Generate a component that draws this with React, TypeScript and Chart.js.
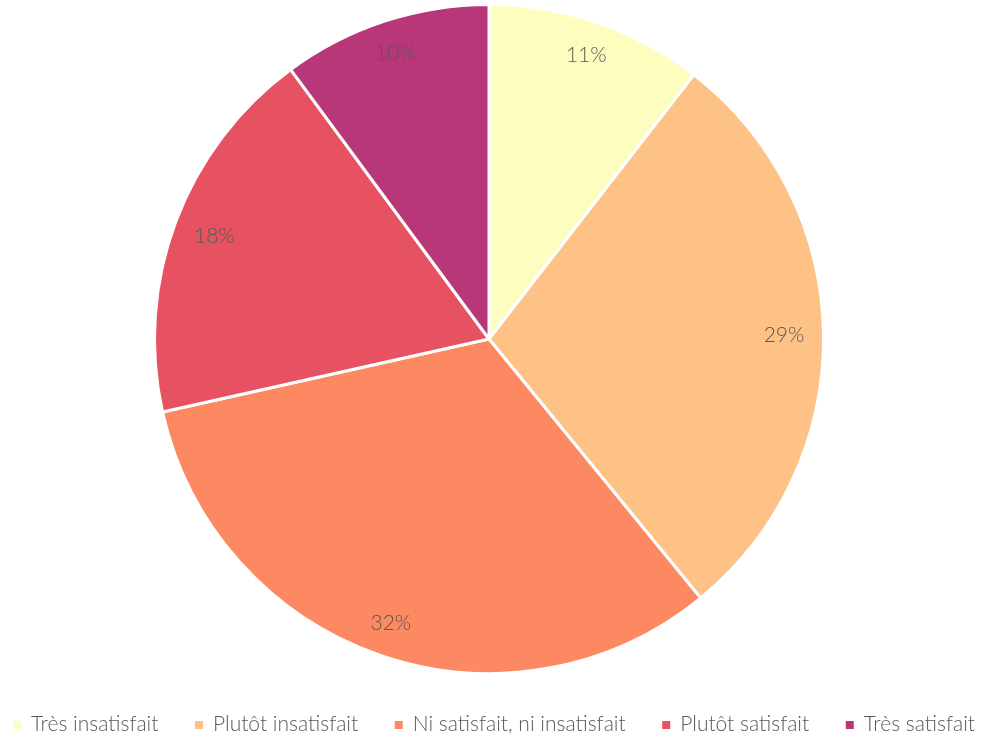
import React, { useEffect, useRef } from "react";
import { Chart, registerables } from "chart.js";

Chart.register(...registerables);

const categories = [
  "Très insatisfait",
  "Plutôt insatisfait",
  "Ni satisfait, ni insatisfait",
  "Plutôt satisfait",
  "Très satisfait",
];
const values = [10.5, 28.6, 32.4, 18.4, 10.1];
const colors = ["#FCFDBF", "#FEC287", "#FC8961", "#E75263", "#B73779"];

const FONT = "Lato, 'Noto Sans', sans-serif";
const TEXT_COLOR = "#595959";

const labelPlugin = {
  id: "sliceLabels",
  afterDatasetsDraw(chart: any) {
    const ctx = chart.ctx;
    const meta = chart.getDatasetMeta(0);
    const total = values.reduce((a, b) => a + b, 0);
    ctx.save();
    ctx.font = `300 21px ${FONT}`;
    ctx.fillStyle = TEXT_COLOR;
    ctx.textAlign = "center";
    ctx.textBaseline = "middle";
    meta.data.forEach((arc: any, i: number) => {
      const { x, y, startAngle, endAngle, outerRadius } = arc.getProps(
        ["x", "y", "startAngle", "endAngle", "outerRadius"],
        true
      );
      const mid = (startAngle + endAngle) / 2;
      const pct = Math.round((values[i] / total) * 100);
      const text = `${pct}%`;
      const w = ctx.measureText(text).width;
      const h = 18;
      const extent =
        (Math.abs(Math.cos(mid)) * w) / 2 + (Math.abs(Math.sin(mid)) * h) / 2;
      const r = outerRadius - 19 - extent;
      ctx.fillText(text, x + Math.cos(mid) * r, y + Math.sin(mid) * r);
    });
    ctx.restore();
  },
};

const legendPlugin = {
  id: "bottomLegend",
  afterDraw(chart: any) {
    const ctx = chart.ctx;
    const labels: string[] = chart.data.labels;
    const bg: string[] = chart.data.datasets[0].backgroundColor;
    ctx.save();
    ctx.font = `300 21px ${FONT}`;
    ctx.textBaseline = "middle";
    ctx.textAlign = "left";
    const box = 8;
    const boxGap = 10;
    const widths = labels.map((l) => box + boxGap + ctx.measureText(l).width);
    const sum = widths.reduce((a, b) => a + b, 0);
    const left = 13;
    const right = 975;
    const gap = (right - left - sum) / (labels.length - 1);
    const cy = chart.height - 12;
    let x = left;
    labels.forEach((l, i) => {
      ctx.fillStyle = bg[i];
      ctx.fillRect(x, cy - box / 2 + 1, box, box);
      ctx.fillStyle = TEXT_COLOR;
      ctx.fillText(l, x + box + boxGap, cy);
      x += widths[i] + gap;
    });
    ctx.restore();
  },
};

export default function App() {
  const ref = useRef<HTMLCanvasElement>(null);
  useEffect(() => {
    document.body.style.margin = "0";
    const chart = new Chart(ref.current!, {
      type: "pie",
      data: {
        labels: categories,
        datasets: [
          {
            data: values,
            backgroundColor: colors,
            borderColor: "#ffffff",
            borderWidth: 3,
          },
        ],
      },
      options: {
        animation: false,
        responsive: false,
        layout: { padding: { top: 3, left: 0, right: 6, bottom: 61 } },
        plugins: {
          tooltip: { enabled: false },
          legend: { display: false },
        },
      },
      plugins: [labelPlugin, legendPlugin],
    });
    return () => chart.destroy();
  }, []);
  return (
    <div style={{ width: 984, height: 736 }}>
      <canvas ref={ref} width={984} height={736} style={{ display: "block" }} />
    </div>
  );
}
